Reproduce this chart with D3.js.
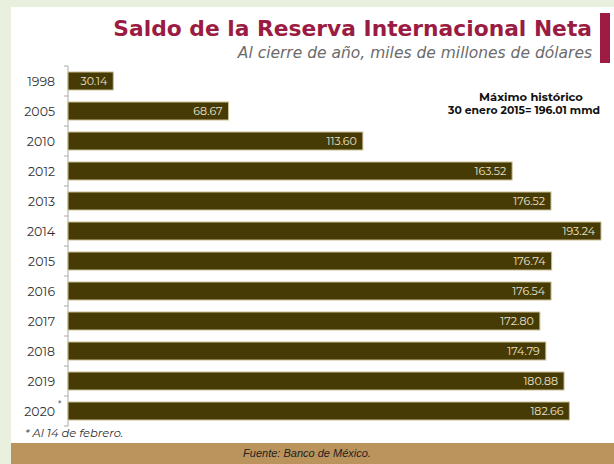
<!DOCTYPE html>
<html><head><meta charset="utf-8">
<script src="https://cdn.jsdelivr.net/npm/d3@7"></script>
<style>body{margin:0;background:#e9f1de;}svg{display:block;font-family:Montserrat,"Noto Sans",sans-serif;}</style>
</head><body>
<svg id="c" width="614" height="464"></svg>
<script>
const categories = ["1998","2005","2010","2012","2013","2014","2015","2016","2017","2018","2019","2020"];
const values = [30.14,68.67,113.60,163.52,176.52,193.24,176.74,176.54,172.80,174.79,180.88,182.66];
const title = "Saldo de la Reserva Internacional Neta";
const subtitle = "Al cierre de año, miles de millones de dólares";
const note1 = "Máximo histórico";
const note2 = "30 enero 2015= 196.01 mmd";
const footnote = "* Al 14 de febrero.";
const source = "Fuente: Banco de México.";

const svg = d3.select("#c");
svg.append("rect").attr("x",11).attr("y",7).attr("width",603).attr("height",457).attr("fill","#fff");
svg.append("rect").attr("x",11).attr("y",443).attr("width",603).attr("height",21).attr("fill","#bb935c");
svg.append("rect").attr("x",600).attr("y",13).attr("width",10).attr("height",50).attr("fill","#9e1b42");

const t = svg.append("text").attr("x",592).attr("y",36).attr("text-anchor","end")
  .attr("font-size",22).attr("font-weight","bold").attr("fill","#9b1c43")
  .attr("font-family","'DejaVu Sans', 'Noto Sans', sans-serif").text(title);
const tw = t.node().getComputedTextLength();
t.attr("font-size", Math.min(23, 22 * 479 / tw));
const s = svg.append("text").attr("x",592).attr("y",58).attr("text-anchor","end")
  .attr("font-size",15).attr("font-style","italic").attr("fill","#6b6b6b")
  .attr("font-family","'DejaVu Sans', Arial, sans-serif").text(subtitle);
const sw = s.node().getComputedTextLength();
s.attr("font-size", Math.min(15.5, 15 * 410 / sw));

const x = d3.scaleLinear().domain([15, 193.24]).range([68, 601]);
const y = d3.scaleBand().domain(categories).range([66, 426]).paddingInner(0.4).paddingOuter(0.2);

// axis
const ag = svg.append("g").attr("transform","translate(68,0)");
ag.append("line").attr("x1",0).attr("x2",0).attr("y1",66).attr("y2",426).attr("stroke","#aaa");
const bounds = d3.range(categories.length+1).map(i => 66 + i*(360/categories.length));
ag.selectAll("line.t").data(bounds).join("line").attr("class","t")
  .attr("x1",-4).attr("x2",0).attr("y1",d=>d).attr("y2",d=>d).attr("stroke","#aaa");

svg.append("g").selectAll("text").data(categories).join("text")
  .attr("x",55).attr("y",d=>y(d)+y.bandwidth()/2+4.5).attr("text-anchor","end")
  .attr("font-size",12.5).attr("fill","#333").text(d=>d);
svg.append("text").attr("x",58).attr("y",y("2020")+5).attr("font-size",9).attr("fill","#333").text("*");

svg.append("g").selectAll("rect").data(values).join("rect")
  .attr("x",x(15)).attr("y",(d,i)=>y(categories[i]))
  .attr("width",d=>x(d)-x(15)).attr("height",y.bandwidth())
  .attr("fill","#473b05").attr("stroke","#cbbf94").attr("stroke-width",1);

svg.append("g").selectAll("text").data(values).join("text")
  .attr("x",d=>x(d)-6).attr("y",(d,i)=>y(categories[i])+y.bandwidth()/2+4)
  .attr("text-anchor","end").attr("font-size",11).attr("fill","#e8e2cf")
  .text(d=>d.toFixed(2));

svg.append("text").attr("x",531).attr("y",101).attr("text-anchor","middle")
  .attr("font-size",11.5).attr("font-weight","bold").attr("fill","#111").text(note1);
svg.append("text").attr("x",524).attr("y",114).attr("text-anchor","middle")
  .attr("font-size",10.8).attr("font-weight","bold").attr("fill","#111").text(note2);

svg.append("text").attr("x",25).attr("y",437).attr("font-size",11.5).attr("font-style","italic")
  .attr("fill","#333").text(footnote);
svg.append("text").attr("x",307).attr("y",457).attr("text-anchor","middle").attr("font-size",11)
  .attr("font-style","italic").attr("fill","#222")
  .attr("font-family","'Liberation Sans', Arial, sans-serif").text(source);
</script>
</body></html>
